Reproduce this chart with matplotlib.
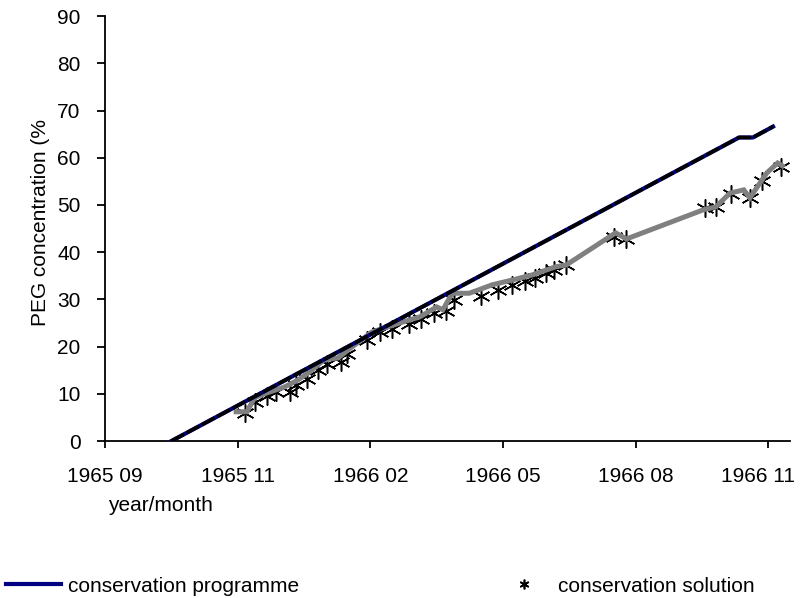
import matplotlib
matplotlib.use('Agg')
import matplotlib.pyplot as plt
import matplotlib.dates as mdates
import matplotlib.ticker as mticker
import matplotlib.transforms as mtransforms
import pandas as pd
from matplotlib.lines import Line2D

plt.rcParams['font.family'] = ['Liberation Sans', 'DejaVu Sans']

# programmed PEG concentration (%)
programme_dates = ['1965-10-16', '1966-10-19', '1966-10-28', '1966-11-10']
programme_pct = [0, 64.3, 64.3, 66.6]

# measured concentration of the solution
solution_dates = ['1965-12-03', '1965-12-09', '1965-12-17', '1965-12-23', '1966-01-01',
                  '1966-01-05', '1966-01-12', '1966-01-19', '1966-01-25', '1966-02-03',
                  '1966-02-07', '1966-02-20', '1966-02-28', '1966-03-08', '1966-03-19',
                  '1966-03-27', '1966-04-04', '1966-04-12', '1966-04-17', '1966-05-05',
                  '1966-05-16', '1966-05-25', '1966-06-02', '1966-06-09', '1966-06-16',
                  '1966-06-21', '1966-06-29', '1966-07-30', '1966-08-07', '1966-09-27',
                  '1966-10-04', '1966-10-14', '1966-10-26', '1966-11-03', '1966-11-15']
solution_pct = [6.0, 8.3, 9.5, 10.4, 10.4,
                11.8, 13.2, 15.0, 16.3, 16.8,
                18.5, 21.3, 23.0, 23.7, 24.8,
                25.8, 27.2, 27.5, 29.8, 30.8,
                32.0, 33.0, 33.8, 34.5, 35.5,
                36.2, 37.2, 43.3, 42.7, 49.3,
                49.5, 52.3, 51.5, 55.0, 58.0]

# running concentration drawn as the grey line
path_dates = ['1965-11-27', '1965-12-04', '1965-12-09', '1965-12-17', '1965-12-28',
              '1966-01-06', '1966-01-15', '1966-01-23', '1966-02-01', '1966-02-10',
              '1966-02-23', '1966-03-13', '1966-03-26', '1966-04-06', '1966-04-10',
              '1966-04-16', '1966-04-27', '1966-05-03', '1966-05-12', '1966-05-25',
              '1966-06-07', '1966-06-22', '1966-06-29', '1966-07-31', '1966-08-07',
              '1966-09-26', '1966-10-04', '1966-10-13', '1966-10-22', '1966-10-26',
              '1966-11-06', '1966-11-13', '1966-11-16']
path_pct = [6.2, 6.2, 9.2, 10.2, 11.4,
            12.9, 15.0, 17.2, 17.6, 19.9,
            23.1, 25.0, 26.3, 28.4, 27.8,
            31.3, 31.3, 32.0, 33.1, 34.1,
            35.2, 36.9, 37.3, 44.1, 42.8,
            49.0, 49.6, 52.5, 53.2, 51.5,
            56.8, 58.9, 58.3]

tick_dates = ['1965-09-03', '1965-11-28', '1966-02-22', '1966-05-19', '1966-08-13', '1966-11-07']

prog_x = mdates.date2num(pd.to_datetime(programme_dates))
sol_x = mdates.date2num(pd.to_datetime(solution_dates))
path_x = mdates.date2num(pd.to_datetime(path_dates))
ticks_x = mdates.date2num(pd.to_datetime(tick_dates))

fig = plt.figure(figsize=(8.03, 5.98), dpi=100)
ax = fig.add_axes([0.1308, 0.2625, 0.853, 0.7105])

ax.plot(sol_x, solution_pct, linestyle='none', marker=(6, 2, 0), markersize=13,
        markeredgewidth=1.1, color='black', zorder=2)
ax.plot(path_x, path_pct, color='#808080', lw=3.6, zorder=3, solid_joinstyle='miter')
ax.plot(prog_x, programme_pct, color='#000080', lw=3.0, zorder=4)
ax.plot(prog_x, programme_pct, color='black', lw=2.6, dashes=(4, 0.8), zorder=5)

ax.set_xlim(mdates.date2num(pd.Timestamp('1965-09-03')), mdates.date2num(pd.Timestamp('1966-11-21')))
ax.set_ylim(0, 90)
ax.xaxis.set_major_locator(mticker.FixedLocator(ticks_x))
ax.xaxis.set_major_formatter(mdates.DateFormatter('%Y %m'))
ax.yaxis.set_major_locator(mticker.MultipleLocator(10))

for s in ['top', 'right']:
    ax.spines[s].set_visible(False)
for s in ['left', 'bottom']:
    ax.spines[s].set_linewidth(1.3)
ax.tick_params(direction='out', width=1.3, labelsize=15)
ax.tick_params(axis='x', length=5, pad=13.5)
ax.tick_params(axis='y', length=5.5, pad=12)

# keep the last month label inside the figure
last = ax.xaxis.get_major_ticks()[-1].label1
last.set_transform(last.get_transform() +
                   mtransforms.ScaledTranslation(-10 / 100, 0, fig.dpi_scale_trans))

ax.set_ylabel('PEG concentration (%', fontsize=15)
ax.yaxis.set_label_coords(-0.080, 0.515)
fig.text(108 / 803, 1 - 511 / 598, 'year/month', fontsize=15, ha='left', va='baseline')

handles = [Line2D([], [], color='#000080', lw=3),
           Line2D([], [], linestyle='none', marker=(6, 2, 0), markersize=7,
                  markeredgewidth=1.2, color='black')]
fig.legend(handles, ['conservation programme', 'conservation solution'],
           loc='center left', bbox_to_anchor=(0.008, 0.02), ncol=2, frameon=False,
           fontsize=15, handlelength=2.6, handletextpad=0.35, columnspacing=9.5,
           borderaxespad=0, borderpad=0)

fig.savefig('out.png', dpi=100)
